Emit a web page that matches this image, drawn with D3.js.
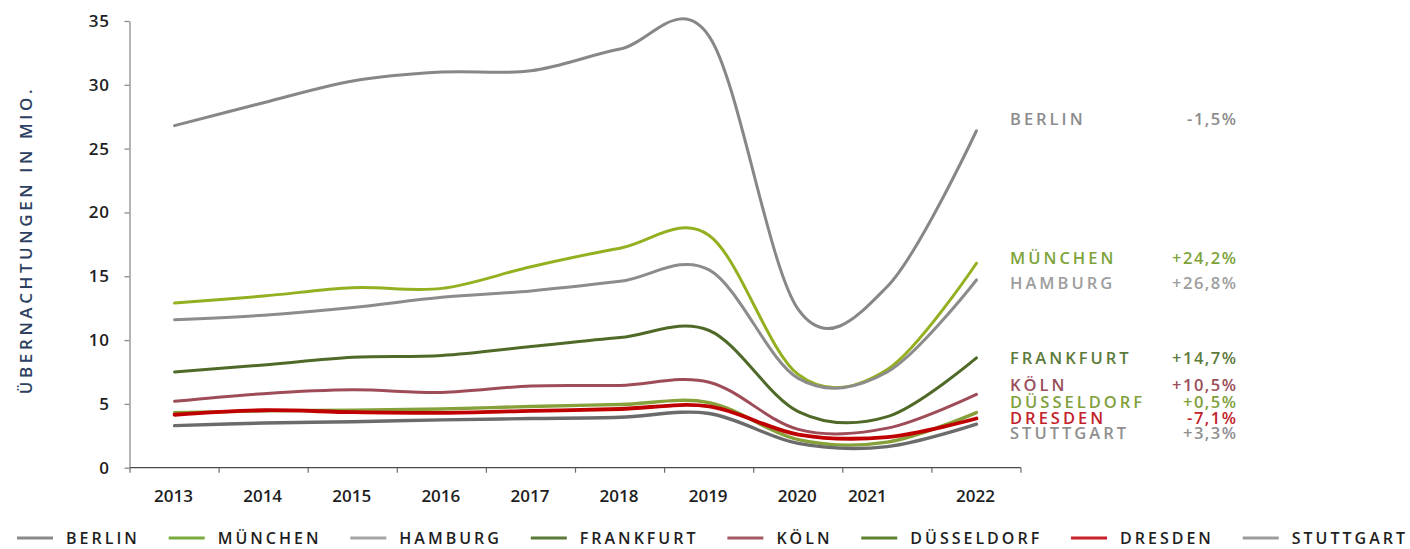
<!DOCTYPE html>
<html>
<head>
<meta charset="utf-8">
<script src="https://cdn.jsdelivr.net/npm/d3@7"></script>
<style>
  html, body { margin: 0; padding: 0; background: #fff; }
  svg { display: block; font-family: "Open Sans", "DejaVu Sans", sans-serif; }
</style>
</head>
<body>
<svg id="chart" width="1410" height="549"></svg>
<script>
// Übernachtungen (Mio.) in deutschen Großstädten, 2013–2022
const years = ["2013", "2014", "2015", "2016", "2017", "2018", "2019", "2020", "2021", "2022"];
const cities = ["BERLIN", "MÜNCHEN", "HAMBURG", "FRANKFURT", "KÖLN", "DÜSSELDORF", "DRESDEN", "STUTTGART"];

const berlin      = [26.8, 28.6, 30.3, 31.0, 31.1, 32.8, 33.8, 12.4, 14.2, 26.4];
const muenchen    = [12.9, 13.45, 14.1, 14.05, 15.75, 17.2, 18.2, 7.3, 7.7, 16.02];
const hamburg     = [11.6, 11.95, 12.55, 13.35, 13.85, 14.6, 15.5, 7.0, 7.5, 14.71];
const frankfurt   = [7.5, 8.05, 8.65, 8.8, 9.5, 10.2, 10.75, 4.4, 4.0, 8.6];
const koeln       = [5.2, 5.8, 6.1, 5.9, 6.4, 6.45, 6.7, 3.0, 3.1, 5.745];
const duesseldorf = [4.3, 4.45, 4.5, 4.6, 4.8, 4.95, 5.1, 2.2, 2.0, 4.32];
const dresden     = [4.15, 4.5, 4.35, 4.3, 4.45, 4.6, 4.8, 2.6, 2.4, 3.855];
const stuttgart   = [3.3, 3.5, 3.6, 3.75, 3.85, 3.95, 4.25, 1.9, 1.65, 3.41];

// Veränderung 2013 → 2022
const changes = ["-1,5%", "+24,2%", "+26,8%", "+14,7%", "+10,5%", "+0,5%", "-7,1%", "+3,3%"];
const yTicks = [0, 5, 10, 15, 20, 25, 30, 35];
const yTitle = "ÜBERNACHTUNGEN IN MIO.";

const seriesValues = [berlin, muenchen, hamburg, frankfurt, koeln, duesseldorf, dresden, stuttgart];

// Styling per series
const lineColors   = ["#878787", "#93b021", "#8c8c8c", "#4f6a28", "#9e4c58", "#86a03a", "#c00000", "#6b6b6b"];
const lineWidths   = [3, 3, 3, 3, 3, 3.4, 3.8, 3.4];
const labelColors  = ["#8c8c8c", "#7ea33a", "#9d9d9d", "#5c7a3a", "#9a4d5a", "#80a03c", "#c4222b", "#8f8f8f"];
const legendColors = ["#8a8a8a", "#7aab3e", "#a5a5a5", "#5a7a38", "#a45862", "#5e8131", "#c9202a", "#9c9c9c"];
// vertical nudges that keep the end labels from colliding
const labelShift   = [-11.5, -5.2, 3, 0, -9.4, -10.9, -0.8, 9.1];

const svg = d3.select("#chart");

const x = d3.scaleBand().domain(years).range([130, 1021]).padding(0);
const y = d3.scaleLinear().domain([0, 35]).range([467.7, 21]);
const cx = yr => x(yr) + x.bandwidth() / 2;

// y axis
const yAxis = svg.append("g")
  .attr("transform", "translate(129.5,0)")
  .call(d3.axisLeft(y).tickValues(yTicks).tickSize(5).tickSizeOuter(0).tickPadding(15));
yAxis.select(".domain").attr("stroke", "#8c8c8c").attr("stroke-width", 1.3);
yAxis.selectAll(".tick line").attr("stroke", "#8c8c8c").attr("stroke-width", 1.3);
yAxis.selectAll(".tick text")
  .attr("fill", "#1e1e1e").style("font-size", "17px").style("font-weight", 600)
  .style("letter-spacing", "0.6px")
  .style("font-family", "'Open Sans', sans-serif");

// y title
svg.append("text")
  .attr("transform", "translate(26,240) rotate(-90)")
  .attr("text-anchor", "middle")
  .attr("dy", "0.35em")
  .attr("fill", "#2d3f5f")
  .style("font-size", "17px")
  .style("font-weight", 600)
  .style("letter-spacing", "3.6px")
  .text(yTitle);

// x axis
const xAxis = svg.append("g");
xAxis.append("line")
  .attr("x1", x.range()[0]).attr("x2", x.range()[1])
  .attr("y1", y(0)).attr("y2", y(0))
  .attr("stroke", "#4a4a4a").attr("stroke-width", 1.3);
const edges = years.map(d => x(d)).concat([x.range()[1]]);
xAxis.selectAll("line.tick").data(edges).join("line")
  .attr("class", "tick")
  .attr("x1", d => d).attr("x2", d => d)
  .attr("y1", y(0)).attr("y2", y(0) + 5)
  .attr("stroke", "#6a6a6a").attr("stroke-width", 1.2);
xAxis.selectAll("text").data(years).join("text")
  .attr("x", d => cx(d) + (d === "2021" ? -19 : 0) - 1)
  .attr("y", 501.5)
  .attr("text-anchor", "middle")
  .attr("fill", "#1e1e1e")
  .style("font-size", "17px")
  .style("font-weight", 600)
  .text(d => d);

// lines
const line = d3.line()
  .x((d, i) => cx(years[i]))
  .y(d => y(d))
  .curve(d3.curveCardinal.tension(0));

svg.append("g").selectAll("path").data(seriesValues).join("path")
  .attr("d", d => line(d))
  .attr("fill", "none")
  .attr("stroke", (d, i) => lineColors[i])
  .attr("stroke-width", (d, i) => lineWidths[i])
  .attr("stroke-linecap", "round")
  .attr("stroke-linejoin", "round");

// end labels
const endLabels = svg.append("g");
seriesValues.forEach((vals, i) => {
  const ly = y(vals[vals.length - 1]) + labelShift[i];
  endLabels.append("text")
    .attr("x", 1010).attr("y", ly).attr("dy", "0.36em")
    .attr("fill", labelColors[i])
    .style("font-size", "16.5px").style("font-weight", 600).style("letter-spacing", "3px")
    .text(cities[i]);
  endLabels.append("text")
    .attr("x", 1236 + 1.5).attr("y", ly).attr("dy", "0.36em")
    .attr("text-anchor", "end")
    .attr("fill", labelColors[i])
    .style("font-size", "16.5px").style("font-weight", 600).style("letter-spacing", "1.5px")
    .text(changes[i]);
});

// legend
const legend = svg.append("g");
const legendY = 538;
const swatch = 36, swatchGap = 13;
const items = cities.map((c, i) => {
  const g = legend.append("g");
  g.append("line")
    .attr("x1", 0).attr("x2", swatch)
    .attr("y1", legendY).attr("y2", legendY)
    .attr("stroke", legendColors[i]).attr("stroke-width", 3);
  const t = g.append("text")
    .attr("x", swatch + swatchGap).attr("y", legendY).attr("dy", "0.36em")
    .attr("fill", "#1e1e1e")
    .style("font-size", "16px").style("font-weight", 600).style("letter-spacing", "3px")
    .text(c);
  const w = swatch + swatchGap + t.node().getComputedTextLength();
  return { g, w };
});
const left = 17, right = 1408;
const total = d3.sum(items, d => d.w);
const gap = (right - left - total) / (items.length - 1);
let pos = left;
items.forEach(it => {
  it.g.attr("transform", `translate(${pos},0)`);
  pos += it.w + gap;
});
</script>
</body>
</html>
